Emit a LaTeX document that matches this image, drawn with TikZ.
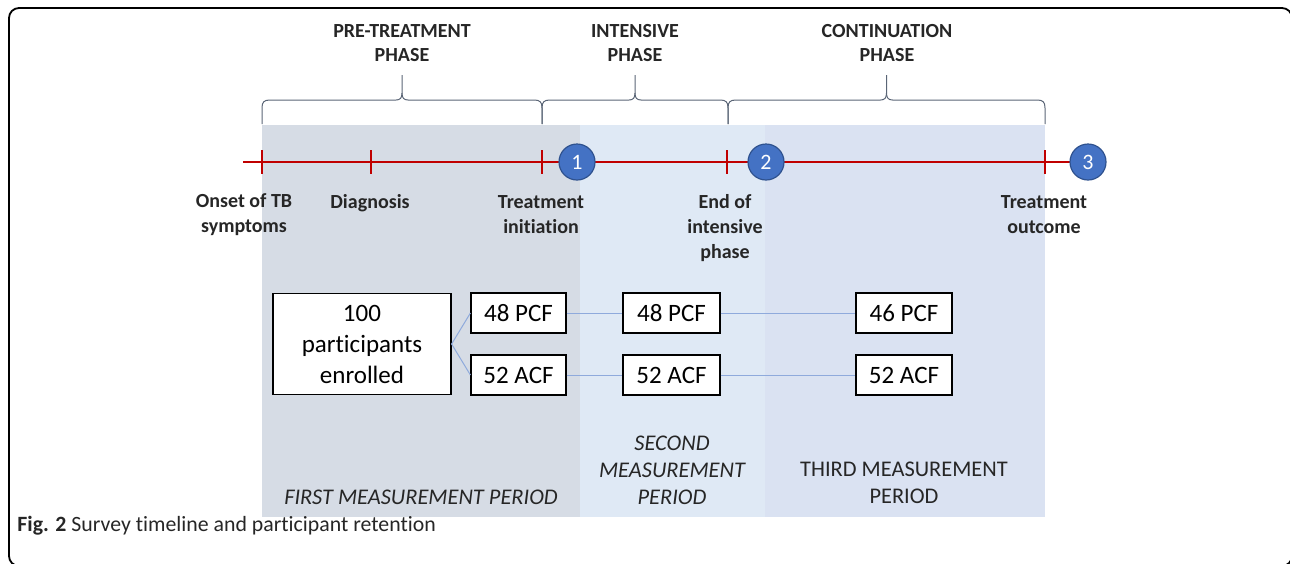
\documentclass[tikz,border=0pt]{standalone}
\usepackage{fontspec}
\setmainfont{Carlito}[Ligatures=NoCommon]
\usetikzlibrary{positioning}

\definecolor{periodA}{HTML}{D6DCE5}
\definecolor{periodB}{HTML}{DFE9F5}
\definecolor{periodC}{HTML}{DAE2F2}
\definecolor{tlred}{HTML}{C00000}
\definecolor{msblue}{HTML}{4472C4}
\definecolor{msdark}{HTML}{2F528F}
\definecolor{bracegray}{HTML}{5A6576}
\definecolor{linkblue}{HTML}{8FAADC}
\definecolor{txtgray}{HTML}{262626}

\begin{document}
\begin{tikzpicture}[
    x=0.5pt, y=-0.5pt,
    every node/.append style = {text=txtgray, inner sep=0pt},
    phaselabel/.style = {font=\fontsize{10}{12}\selectfont\bfseries, align=center},
    eventlabel/.style = {font=\fontsize{10}{12.5}\selectfont\bfseries, align=center},
    countbox/.style = {draw=black, fill=white, line width=0.6pt, text=black,
      font=\fontsize{12.5}{15.5}\selectfont, align=center,
      minimum width=47.5pt, minimum height=20pt},
    milestone/.style = {circle, fill=msblue, draw=msdark, line width=0.6pt,
      minimum size=18pt, text=white, font=\fontsize{11}{13}\selectfont},
    periodlabel/.style = {font=\fontsize{11.2}{13.5}\selectfont, align=center},
    phasebrace/.style = {draw=bracegray, line width=0.5pt},
    tick/.style = {draw=tlred, line width=0.9pt},
    link/.style = {draw=linkblue, line width=0.5pt},
  ]
  %%+++++++++++++++++++++++++
  % Variables
  % Timeline
  \pgfmathsetmacro{\Ytl}{162}
  \pgfmathsetmacro{\Htick}{12}
  % Shaded periods
  \pgfmathsetmacro{\Ytop}{125}
  \pgfmathsetmacro{\Ybot}{517}
  % Braces
  \pgfmathsetmacro{\Ybr}{100}
  \pgfmathsetmacro{\Ytip}{75}
  % Rows of boxes
  \pgfmathsetmacro{\Yup}{313}
  \pgfmathsetmacro{\Ylow}{375}
  %%+++++++++++++++++++++++++
  % Frame
  \clip (0,0) rectangle (1290,563);
  \draw[line width=0.9pt, rounded corners=5pt] (9,8) rectangle (1292,566);
  % Periods
  \fill[periodA] (262,\Ytop) rectangle (580,\Ybot);
  \fill[periodB] (580,\Ytop) rectangle (765,\Ybot);
  \fill[periodC] (765,\Ytop) rectangle (1045,\Ybot);
  % Braces
  \foreach \xa/\xb in {262/542, 542/728, 728/1045}{
    \pgfmathsetmacro{\xm}{(\xa+\xb)/2}
    \draw[phasebrace] (\xa,124) -- (\xa,\Ybr+8)
      .. controls (\xa,\Ybr+2) and (\xa+2,\Ybr) .. (\xa+8,\Ybr)
      -- (\xm-6,\Ybr) .. controls (\xm-2,\Ybr) and (\xm,\Ybr-2) .. (\xm,\Ybr-7)
      -- (\xm,\Ytip);
    \draw[phasebrace] (\xb,124) -- (\xb,\Ybr+8)
      .. controls (\xb,\Ybr+2) and (\xb-2,\Ybr) .. (\xb-8,\Ybr)
      -- (\xm+6,\Ybr) .. controls (\xm+2,\Ybr) and (\xm,\Ybr-2) .. (\xm,\Ybr-7);
  }
  \node[phaselabel] (ph-pre) at (402,43) {PRE-TREATMENT\\PHASE};
  \node[phaselabel] (ph-int) at (635,43) {INTENSIVE\\PHASE};
  \node[phaselabel] (ph-con) at (887,43) {CONTINUATION\\PHASE};
  % Timeline
  \coordinate (tl-start) at (243,\Ytl);
  \coordinate (tl-end) at (1088,\Ytl);
  \draw[tick] (tl-start) -- (tl-end);
  \foreach \x in {262,371,542,727,1045}
    \draw[tick] (\x,\Ytl-\Htick) -- (\x,\Ytl+\Htick);
  \node[milestone] (m1) at (577,\Ytl) {1};
  \node[milestone] (m2) at (766,\Ytl) {2};
  \node[milestone] (m3) at (1088,\Ytl) {3};
  % Events
  \node[eventlabel] (ev-onset) at (244,215) {Onset of TB\\symptoms};
  \node[eventlabel] (ev-diag) at (370,203) {Diagnosis};
  \node[eventlabel] (ev-init) at (541,215) {Treatment\\initiation};
  \node[eventlabel] (ev-end) at (725,228) {End of\\intensive\\phase};
  \node[eventlabel] (ev-out) at (1044,215) {Treatment\\outcome};
  % Participants
  \node[countbox, minimum width=89pt, minimum height=50.5pt] (enrolled) at (362,344)
    {100\\participants\\enrolled};
  \node[countbox] (pcf-1) at (518.5,\Yup) {48 PCF};
  \node[countbox] (acf-1) at (518.5,\Ylow) {52 ACF};
  \node[countbox, minimum width=48.5pt] (pcf-2) at (671.5,\Yup) {48 PCF};
  \node[countbox, minimum width=48.5pt] (acf-2) at (671.5,\Ylow) {52 ACF};
  \node[countbox, minimum width=48pt] (pcf-3) at (904,\Yup) {46 PCF};
  \node[countbox, minimum width=48pt] (acf-3) at (904,\Ylow) {52 ACF};
  \draw[link] (enrolled.east) -- (pcf-1.west);
  \draw[link] (enrolled.east) -- (acf-1.west);
  \draw[link] (pcf-1) -- (pcf-2);
  \draw[link] (acf-1) -- (acf-2);
  \draw[link] (pcf-2) -- (pcf-3);
  \draw[link] (acf-2) -- (acf-3);
  % Measurement periods
  \node[periodlabel, font=\fontsize{11.2}{13.5}\selectfont\itshape] (per-1) at (421,497)
    {FIRST MEASUREMENT PERIOD};
  \node[periodlabel, font=\fontsize{11.2}{13.5}\selectfont\itshape] (per-2) at (672,470)
    {SECOND\\MEASUREMENT\\PERIOD};
  \node[periodlabel] (per-3) at (904,483) {THIRD MEASUREMENT\\PERIOD};
  % Caption
  \node[anchor=west, font=\fontsize{10.9}{12}\selectfont] (caption) at (17,526)
    {\textbf{Fig. 2} Survey timeline and participant retention};
\end{tikzpicture}
\end{document}
